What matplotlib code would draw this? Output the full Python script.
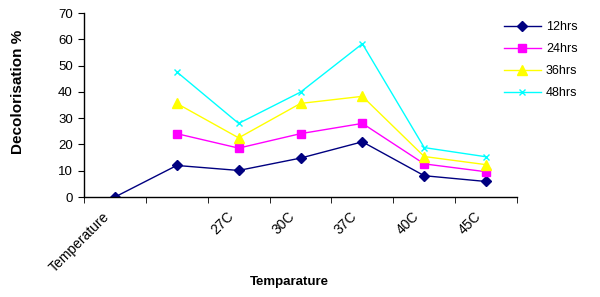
import matplotlib.pyplot as plt
from matplotlib.transforms import ScaledTranslation

plt.rcParams['font.family'] = ['Liberation Sans', 'DejaVu Sans']

# Data
categories = ["Temperature", "", "27C", "30C", "37C", "40C", "45C"]
hrs12 = [0, 12, 10.1, 14.8, 21, 8.1, 5.9]
hrs24 = [None, 24.1, 18.6, 24.1, 28, 12.6, 9.6]
hrs36 = [None, 35.6, 22.5, 35.6, 38.3, 15.4, 12.3]
hrs48 = [None, 47.6, 28, 39.9, 58.3, 18.8, 15.3]

x = list(range(len(categories)))

fig = plt.figure(figsize=(6, 2.97), dpi=100)
ax = fig.add_axes([0.14, 0.3367, 0.7217, 0.6195])

def clean(vals):
    return [float('nan') if v is None else v for v in vals]

ax.plot(x, clean(hrs12), color='#000080', marker='D', markersize=5, lw=1, label='12hrs')
ax.plot(x, clean(hrs24), color='#ff00ff', marker='s', markersize=6, lw=1, label='24hrs')
ax.plot(x, clean(hrs36), color='#ffff00', marker='^', markersize=7, lw=1, label='36hrs')
ax.plot(x, clean(hrs48), color='#00ffff', marker='x', markersize=5, mew=1, lw=1, label='48hrs')

ax.set_xlim(-0.5, len(categories) - 0.5)
ax.set_ylim(0, 70)
ax.set_yticks(range(0, 71, 10))

# category ticks between categories, labels at centres
ax.set_xticks(x)
ax.set_xticklabels(categories, rotation=45, ha='right', rotation_mode='anchor', fontsize=10)
ax.tick_params(axis='x', which='major', length=0, pad=9)
ax.set_xticks([i - 0.5 for i in range(len(categories) + 1)], minor=True)
ax.tick_params(axis='x', which='minor', length=4, color='black', direction='out')
for lab in ax.get_xticklabels():
    lab.set_transform(lab.get_transform() + ScaledTranslation(-9 / 72, 0, fig.dpi_scale_trans))
ax.tick_params(axis='y', length=4, labelsize=9.5, pad=4)

ax.spines['top'].set_visible(False)
ax.spines['right'].set_visible(False)
ax.spines['left'].set_linewidth(1)
ax.spines['bottom'].set_linewidth(1)

fig.text(0.03, 0.69, 'Decolorisation %', rotation=90, ha='center', va='center',
         fontsize=11, fontweight='bold')
fig.text(0.482, 0.04, 'Temparature', ha='center', fontsize=9.5, fontweight='bold')

ax.legend(loc='upper left', bbox_to_anchor=(0.94, 1.025), frameon=False, fontsize=9,
          handlelength=3.0, labelspacing=0.8, handletextpad=0.4, borderaxespad=0.6)

plt.savefig('out.png', dpi=100)
